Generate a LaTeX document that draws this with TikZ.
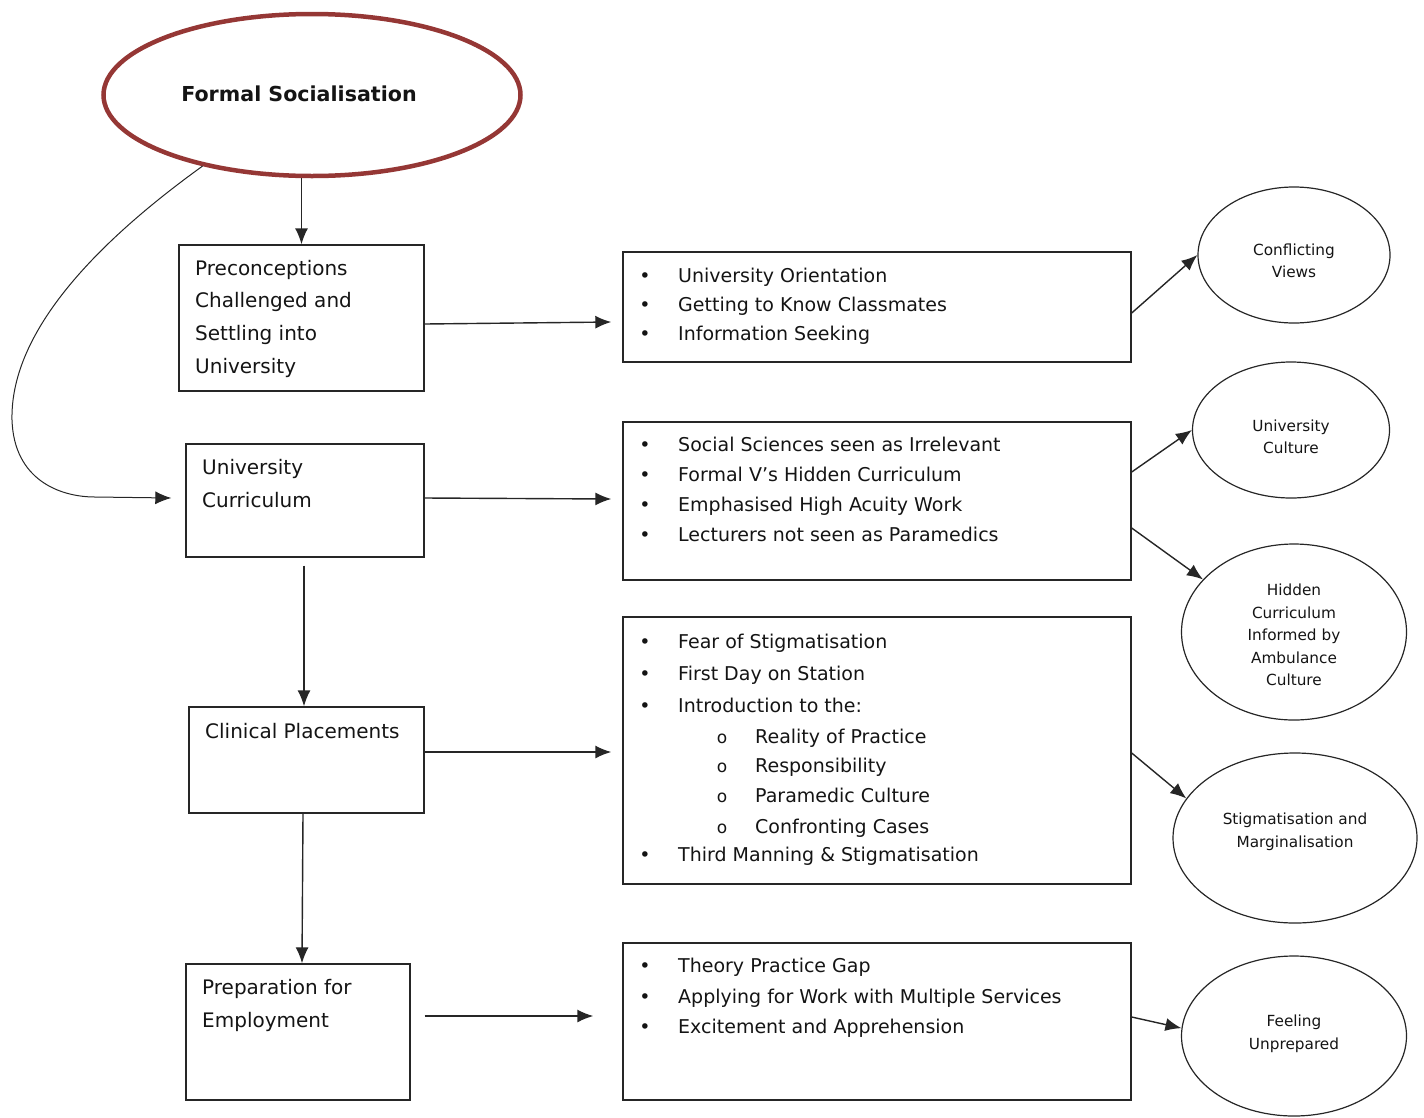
\documentclass[tikz,border=0pt]{standalone}
\usepackage{fontspec}
\setmainfont{DejaVu Sans}
\usetikzlibrary{shapes.geometric,arrows.meta}
\definecolor{socred}{HTML}{953735}
\definecolor{edge}{HTML}{262626}
\definecolor{ink}{HTML}{141414}

\begin{document}
\begin{tikzpicture}[x=1pt,y=-1pt,
  line/.style={draw=edge,line width=1.4pt},
  tip/.style={-{Latex[length=16pt,width=13pt]}},
  arr/.style={line,tip},
  rbox/.style 2 args={draw=edge,line width=1.4pt,rectangle,inner sep=0pt,
    minimum width=#1,minimum height=#2},
  oval/.style 2 args={draw=edge,line width=1.2pt,ellipse,inner sep=0pt,
    minimum width=#1,minimum height=#2},
  otxt/.style={inner sep=0pt,align=center,text=ink,font=\fontsize{15.3}{22.5}\selectfont},
  ltxt/.style={anchor=base west,inner sep=0pt,text=ink,font=\fontsize{20}{24}\selectfont},
  itm/.style={anchor=base west,inner sep=0pt,text=ink,font=\fontsize{19}{23}\selectfont},
  bul/.style={anchor=base,inner sep=0pt,text=ink,font=\fontsize{19}{23}\selectfont},
  sub/.style={anchor=base,inner sep=0pt,text=ink,font=\fontsize{17}{23}\selectfont}
]
\useasboundingbox (0,0) rectangle (1424,1117);

% central ellipse
\node[draw=socred,line width=4.5pt,ellipse,inner sep=0pt,
  minimum width=417pt,minimum height=162pt] (fs) at (312,95) {};
\node[inner sep=0pt,text=ink,font=\fontsize{20.6}{24}\selectfont\bfseries] (fs-t) at (299,94) {Formal Socialisation};

% left column boxes
\node[rbox={245pt}{146pt}] (pre) at (301.5,318) {};
\node[rbox={238pt}{113pt}] (cur) at (305,500.5) {};
\node[rbox={235pt}{106pt}] (cli) at (306.5,760) {};
\node[rbox={224pt}{136pt}] (prep) at (298,1032) {};

\foreach \t [count=\i] in {Preconceptions,Challenged and,Settling into,University}
  \node[ltxt] (pre-\i) at (195,{275+32.8*(\i-1)}) {\t};
\foreach \t [count=\i] in {University,Curriculum}
  \node[ltxt] (cur-\i) at (202,{474+33*(\i-1)}) {\t};
\node[ltxt] (cli-1) at (205,738) {Clinical Placements};
\foreach \t [count=\i] in {Preparation for,Employment}
  \node[ltxt] (prep-\i) at (202,{994+33*(\i-1)}) {\t};

% middle column boxes
\node[rbox={508pt}{110pt}] (r1) at (877,307) {};
\node[rbox={508pt}{158pt}] (r2) at (877,501) {};
\node[rbox={508pt}{267pt}] (r3) at (877,750.5) {};
\node[rbox={508pt}{157pt}] (r4) at (877,1021.5) {};

\foreach \y/\t in {282/University Orientation,311/Getting to Know Classmates,340/Information Seeking}
  {\node[bul] (r1b-\y) at (645,\y) {•}; \node[itm] (r1t-\y) at (678,\y) {\t};}
\foreach \y/\t in {451/Social Sciences seen as Irrelevant,481/Formal V’s Hidden Curriculum,
    511/Emphasised High Acuity Work,541/Lecturers not seen as Paramedics}
  {\node[bul] (r2b-\y) at (645,\y) {•}; \node[itm] (r2t-\y) at (678,\y) {\t};}
\foreach \y/\t in {648/Fear of Stigmatisation,680/First Day on Station,712/Introduction to the:,
    861/Third Manning \& Stigmatisation}
  {\node[bul] (r3b-\y) at (645,\y) {•}; \node[itm] (r3t-\y) at (678,\y) {\t};}
\foreach \y/\t in {743/Reality of Practice,772/Responsibility,802/Paramedic Culture,833/Confronting Cases}
  {\node[sub] (r3s-\y) at (722,\y) {o}; \node[itm] (r3u-\y) at (755,\y) {\t};}
\foreach \y/\t in {972/Theory Practice Gap,1003/Applying for Work with Multiple Services,1033/Excitement and Apprehension}
  {\node[bul] (r4b-\y) at (645,\y) {•}; \node[itm] (r4t-\y) at (678,\y) {\t};}

% outcome ellipses
\node[oval={192pt}{136pt}] (cv) at (1294,255) {};
\node[oval={197pt}{136pt}] (uc) at (1291,430) {};
\node[oval={225pt}{176pt}] (hc) at (1294,632) {};
\node[oval={244pt}{170pt}] (sm) at (1295,838) {};
\node[oval={225pt}{160pt}] (fu) at (1294,1036) {};
\node[otxt] (cv-t) at (1294,261) {Conflicting\\Views};
\node[otxt] (uc-t) at (1291,437) {University\\Culture};
\node[otxt] (hc-t) at (1294,635) {\fontsize{15.3}{23.5}\selectfont Hidden\\Curriculum\\Informed by\\Ambulance\\Culture};
\node[otxt] (sm-t) at (1295,832) {Stigmatisation and\\Marginalisation};
\node[otxt] (fu-t) at (1294,1034) {Feeling\\Unprepared};

% vertical flow
\draw[arr] (pre.north |- fs.south) -- (pre.north);
\draw[arr] ([xshift=-1pt,yshift=-8pt]cur.south) -- ([xshift=-2.5pt]cli.north);
\draw[arr] ([xshift=-3.5pt]cli.south) -- ([xshift=4pt]prep.north);

% curved link into the curriculum box
\draw[draw=edge,line width=1pt,tip]
  (fs.213) .. controls (100,240) and (10,330) .. (12,420)
  .. controls (14,480) and (60,497) .. (95,497) -- ([xshift=-14pt,yshift=2.5pt]cur.west);

% left to middle
\draw[arr] ([yshift=-6pt]pre.east) -- ([xshift=-11pt,yshift=-15pt]r1.west);
\draw[arr] ([yshift=2.5pt]cur.east) -- ([xshift=-11pt,yshift=2pt]r2.west);
\draw[arr] ([yshift=8pt]cli.east) -- ([xshift=-11pt,yshift=-1.5pt]r3.west);
\draw[arr] ([xshift=14pt,yshift=16pt]prep.east) -- ([xshift=-29pt,yshift=5.5pt]r4.west);

% middle to outcomes
\draw[arr] ([yshift=-6pt]r1.east) -- (cv.west);
\draw[arr] ([yshift=29pt]r2.east) -- (uc.west);
\draw[arr] ([yshift=-27pt]r2.east) -- (hc.150);
\draw[arr] ([yshift=-2.5pt]r3.east) -- (sm.160);
\draw[arr] ([yshift=4.5pt]r4.east) -- (fu.176);
\end{tikzpicture}
\end{document}
